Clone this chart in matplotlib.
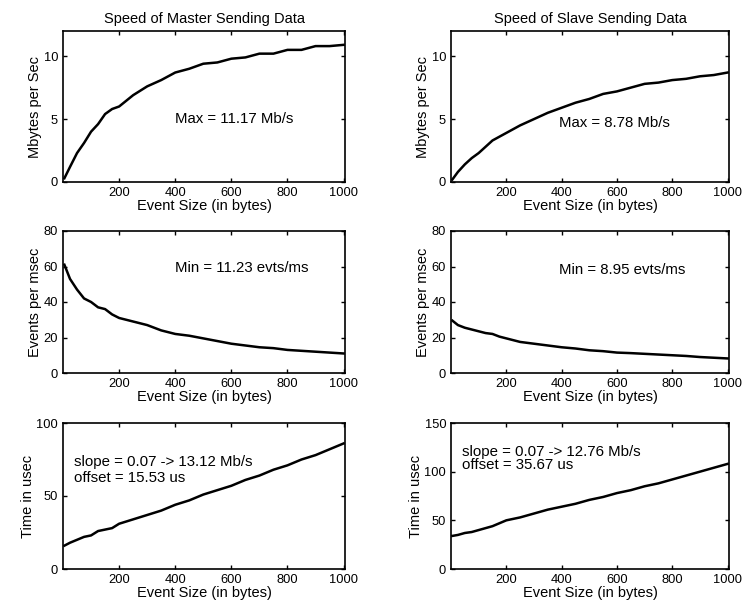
import matplotlib
matplotlib.use("Agg")
import matplotlib.pyplot as plt

plt.rcParams['font.family'] = ['Liberation Sans', 'DejaVu Sans']

# Event sizes (bytes)
size = [5, 25, 50, 75, 100, 125, 150, 175, 200, 250, 300, 350, 400, 450, 500,
        550, 600, 650, 700, 750, 800, 850, 900, 950, 1000]

# Master: MBytes per sec
master_rate = [0.3, 1.2, 2.3, 3.1, 4.0, 4.6, 5.4, 5.8, 6.0, 6.9, 7.6, 8.1, 8.7, 9.0, 9.4,
               9.5, 9.8, 9.9, 10.2, 10.2, 10.5, 10.5, 10.8, 10.8, 10.9]
# Slave: MBytes per sec
slave_rate = [0.2, 0.8, 1.4, 1.9, 2.3, 2.8, 3.3, 3.6, 3.9, 4.5, 5.0, 5.5, 5.9, 6.3, 6.6,
              7.0, 7.2, 7.5, 7.8, 7.9, 8.1, 8.2, 8.4, 8.5, 8.7]

# Master: events per msec
master_evts = [61, 53, 47, 42, 40, 37, 36, 33, 31, 29, 27, 24, 22, 21, 19.5,
               18, 16.5, 15.5, 14.5, 14, 13, 12.5, 12, 11.5, 11]
# Slave: events per msec
slave_evts = [29.5, 27, 25.5, 24.5, 23.5, 22.5, 22, 20.5, 19.5, 17.5, 16.5, 15.5, 14.5, 13.8, 12.8,
              12.3, 11.5, 11.2, 10.8, 10.4, 10, 9.6, 9.0, 8.6, 8.2]

# Master: time in usec
master_time = [16, 18, 20, 22, 23, 26, 27, 28, 31, 34, 37, 40, 44, 47, 51,
               54, 57, 61, 64, 68, 71, 75, 78, 82, 86]
# Slave: time in usec
slave_time = [34, 35, 37, 38, 40, 42, 44, 47, 50, 53, 57, 61, 64, 67, 71,
              74, 78, 81, 85, 88, 92, 96, 100, 104, 108]

titles = ["Speed of Master Sending Data", "Speed of Slave Sending Data"]
ylabels = ["Mbytes per Sec", "Events per msec", "Time in usec"]
xlabel = "Event Size (in bytes)"
xticks = [200, 400, 600, 800, 1000]

fig = plt.figure(figsize=(7.45, 6.15), dpi=100)

left_x = [63 / 745, 451 / 745]
widths = [282 / 745, 278 / 745]
rows = [(1 - 182 / 615, 151 / 615), (1 - 373 / 615, 142 / 615), (1 - 569 / 615, 146 / 615)]

data = [[master_rate, slave_rate], [master_evts, slave_evts], [master_time, slave_time]]
ylims = [[(0, 12), (0, 12)], [(0, 80), (0, 80)], [(0, 100), (0, 150)]]
yticks = [[[0, 5, 10], [0, 5, 10]], [[0, 20, 40, 60, 80], [0, 20, 40, 60, 80]],
          [[0, 50, 100], [0, 50, 100, 150]]]

annotations = {
    (0, 0): [(400, 5.0, "Max = 11.17 Mb/s")],
    (0, 1): [(392, 4.7, "Max = 8.78 Mb/s")],
    (1, 0): [(400, 59, "Min = 11.23 evts/ms")],
    (1, 1): [(392, 58, "Min = 8.95 evts/ms")],
    (2, 0): [(39, 73, "slope = 0.07 -> 13.12 Mb/s"), (39, 62, "offset = 15.53 us")],
    (2, 1): [(39, 120, "slope = 0.07 -> 12.76 Mb/s"), (39, 107, "offset = 35.67 us")],
}

for r in range(3):
    for c in range(2):
        b, h = rows[r]
        ax = fig.add_axes([left_x[c], b, widths[c], h])
        ax.plot(size, data[r][c], color="black", lw=1.8)
        ax.set_xlim(0, 1005)
        ax.set_ylim(*ylims[r][c])
        ax.set_xticks(xticks)
        ax.set_yticks(yticks[r][c])
        ax.tick_params(direction="in", top=True, right=True, length=3,
                       labelsize=9.3, width=1)
        for s in ax.spines.values():
            s.set_linewidth(1.2)
        ax.set_xlabel(xlabel, fontsize=10.5, labelpad=0)
        ax.set_ylabel(ylabels[r], fontsize=10.5, labelpad=1)
        if r == 0:
            ax.set_title(titles[c], fontsize=10.5, pad=6)
        for (tx, ty, txt) in annotations[(r, c)]:
            ax.text(tx, ty, txt, fontsize=10.8, va="center", ha="left")

fig.savefig("out.png", dpi=100)
